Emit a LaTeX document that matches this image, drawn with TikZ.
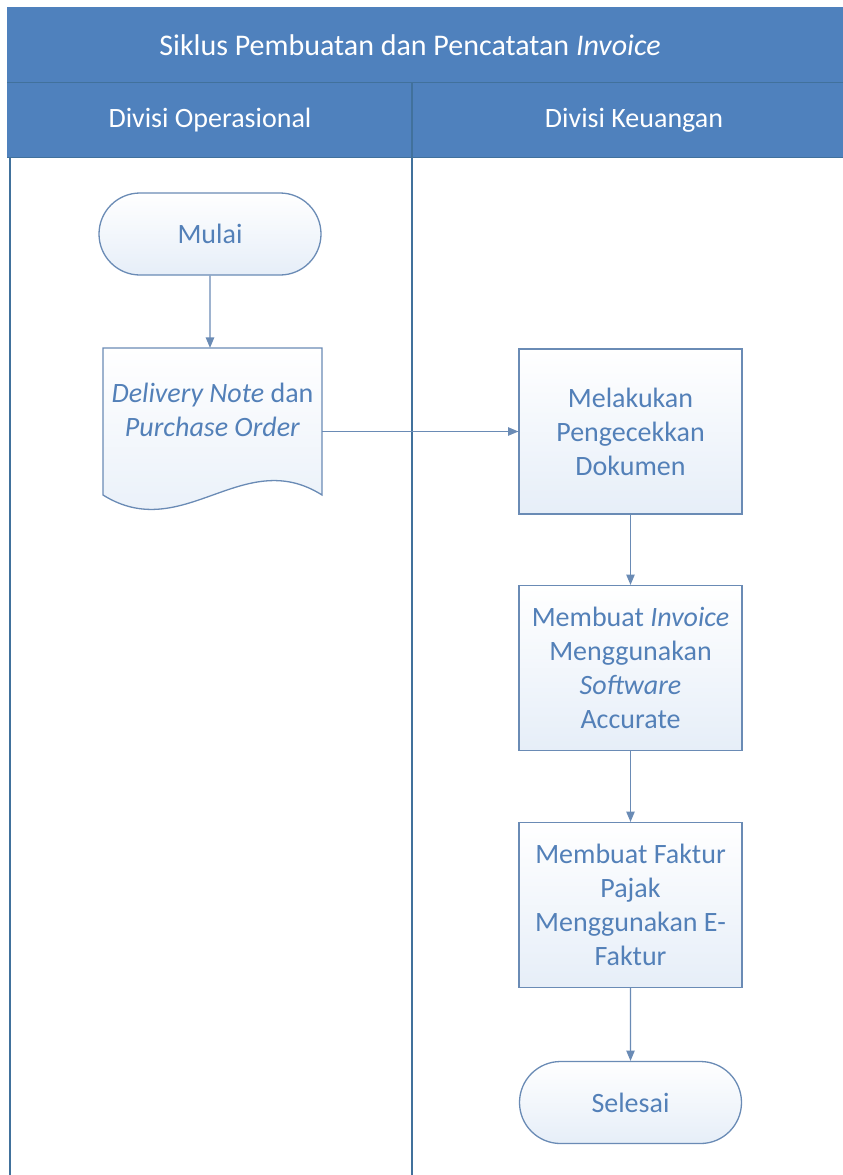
\documentclass[tikz,border=0pt]{standalone}
\usepackage{fontspec}
\setmainfont{Carlito}
\usetikzlibrary{arrows,shapes.misc}
\definecolor{lanehead}{HTML}{4F81BD}
\definecolor{laneline}{HTML}{41719C}
\definecolor{shapeline}{HTML}{6A8BB5}
\definecolor{shapetext}{HTML}{5380B8}
\definecolor{shapefill}{HTML}{E6EEF8}
\newcommand{\nodefont}{\fontsize{28}{34}\selectfont}
\tikzset{
	proc/.style={draw=shapeline, line width=1.3pt, top color=white, bottom color=shapefill,
		text=shapetext, align=center, minimum width=223pt, minimum height=165pt,
		inner sep=0pt, font=\nodefont},
	term/.style={proc, rounded rectangle, minimum width=222pt, minimum height=82pt},
	lanetext/.style={text=white, font=\fontsize{28}{34}\selectfont},
	flow/.style={-triangle 45, draw=shapeline, line width=1.4pt},
}

\begin{document}
\begin{tikzpicture}[x=1pt, y=-1pt]
			\useasboundingbox (0,0) rectangle (843,1175);
			% swimlanes
			\fill[lanehead] (7,7) rectangle (843,157);
			\draw[laneline, line width=1pt] (7,82) -- (843,82) (7,157) -- (843,157);
			\draw[laneline, line width=1.5pt] (10,157) -- (10,1175) (412,82) -- (412,1175);
			\node[lanetext, font=\fontsize{30}{36}\selectfont] (judul) at (410,45) {Siklus Pembuatan dan Pencatatan \textit{Invoice}};
			\node[lanetext] (operasional) at (210,120) {Divisi Operasional};
			\node[lanetext] (keuangan) at (634,120) {Divisi Keuangan};
			% flow
			\node[term] (mulai) at (210,234) {Mulai};
			\draw[draw=shapeline, line width=1.3pt, top color=white, bottom color=shapefill]
			(103,348) -- (322,348) -- (322,495) .. controls (243,445) and (183,545) .. (103,495) -- cycle;
			\node[text=shapetext, align=center, font=\nodefont, minimum width=219pt, minimum height=124pt, inner sep=0pt] (dokumen) at (212.5,410) {\textit{Delivery Note} dan\\\textit{Purchase Order}};
			\node[proc] (cek) at (630.5,431.5) {Melakukan\\Pengecekkan\\Dokumen};
			\node[proc] (invoice) at (630.5,668) {Membuat \textit{Invoice}\\Menggunakan\\\textit{Software}\\Accurate};
			\node[proc] (faktur) at (630.5,905) {Membuat Faktur\\Pajak\\Menggunakan E-\\Faktur};
			\node[term] (selesai) at (630.5,1102.5) {Selesai};
			\path
			(mulai) edge[flow] (mulai |- dokumen.north)
			(cek.west -| dokumen.east) edge[flow] (cek)
			(cek) edge[flow] (invoice)
			(invoice) edge[flow] (faktur)
			(faktur) edge[flow] (selesai);
		\end{tikzpicture}
\end{document}
